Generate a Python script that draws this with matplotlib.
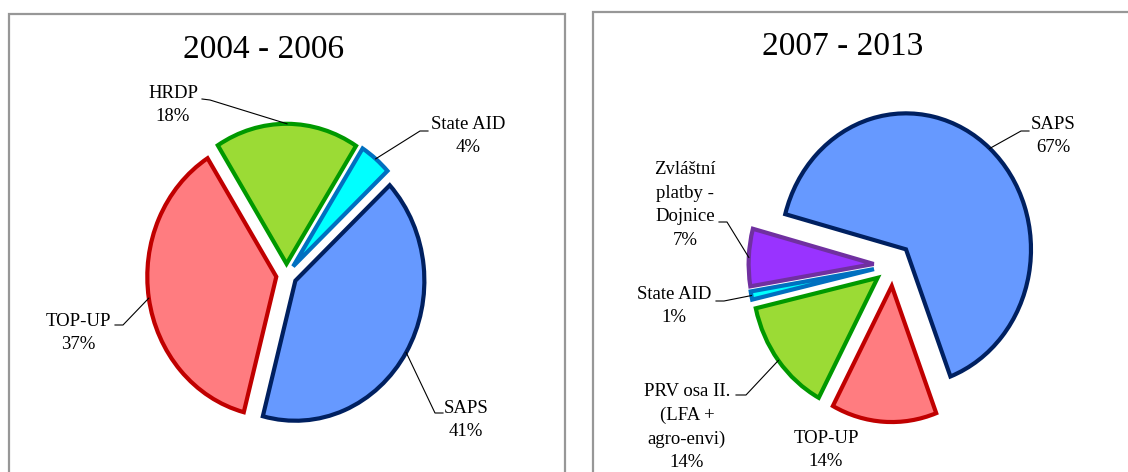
import matplotlib
matplotlib.use('Agg')
import matplotlib.pyplot as plt
from matplotlib.patches import Rectangle
import numpy as np

plt.rcParams['font.family'] = ['Liberation Serif', 'DejaVu Serif']

W, H = 1128, 472

# --- data ---
titles = ['2004 - 2006', '2007 - 2013']

labels_1 = ['SAPS', 'TOP-UP', 'HRDP', 'State AID']
values_1 = [41, 37, 18, 4]

labels_2 = ['SAPS', 'TOP-UP', 'PRV osa II.\n(LFA +\nagro-envi)', 'State AID',
            'Zvláštní\nplatby -\nDojnice']
values_2 = [67, 14, 14, 1, 7]

# barvy: SAPS, TOP-UP, HRDP/PRV, State AID, Dojnice
fill_c = {'SAPS': '#6699FF', 'TOP-UP': '#FF7C80', 'green': '#9BDB35',
          'State AID': '#00FFFF', 'purple': '#9933FF'}
edge_c = {'SAPS': '#002060', 'TOP-UP': '#C00000', 'green': '#009900',
          'State AID': '#0070C0', 'purple': '#7030A0'}
keys_1 = ['SAPS', 'TOP-UP', 'green', 'State AID']
keys_2 = ['SAPS', 'TOP-UP', 'green', 'State AID', 'purple']

fig = plt.figure(figsize=(W / 100, H / 100), dpi=100)

# ramecky obou grafu (pixely, y od shora)
def px_rect(x0, y0, x1, y1):
    return Rectangle((x0 / W, 1 - y1 / H), (x1 - x0) / W, (y1 - y0) / H,
                     transform=fig.transFigure, fill=False,
                     edgecolor='#979797', linewidth=1.6)

fig.patches.append(px_rect(8.7, 13.7, 565, 480))
fig.patches.append(px_rect(593, 12, 1140, 480))


def kolac(title, values, labels, keys, start, expl, cx, cy, rx, ry,
          title_xy, label_xy, leaders):
    ax = fig.add_axes([0, 0, 1, 1])
    wedges, _ = ax.pie(values, explode=[expl] * len(values),
                       colors=[fill_c[k] for k in keys],
                       startangle=start, counterclock=False, radius=1,
                       wedgeprops=dict(linewidth=3, joinstyle='miter'))
    for w, k in zip(wedges, keys):
        w.set_edgecolor(edge_c[k])
    ax.set_aspect('auto')
    ax.set_xlim(-cx / rx, (W - cx) / rx)
    ax.set_ylim((cy - H) / ry, cy / ry)
    ax.axis('off')

    def d(x, y):
        return ((x - cx) / rx, (cy - y) / ry)

    ax.text(*d(*title_xy), title, ha='center', va='center', fontsize=24)

    for w, lab, val, pos, lead in zip(wedges, labels, values, label_xy, leaders):
        ax.text(*d(*pos), f'{lab}\n{val}%', ha='center', va='center',
                fontsize=13.5, linespacing=1.5)
        if lead:
            ang = np.deg2rad((w.theta1 + w.theta2) / 2)
            x0 = w.center[0] + w.r * np.cos(ang)
            y0 = w.center[1] + w.r * np.sin(ang)
            pts = [d(*p) for p in lead] + [(x0, y0)]
            ax.plot([p[0] for p in pts], [p[1] for p in pts],
                    color='black', linewidth=0.8)


kolac(titles[0], values_1, labels_1, keys_1, start=43, expl=0.08,
      cx=286.5, cy=275, rx=129, ry=140, title_xy=(264, 50),
      label_xy=[(466, 420), (78, 333), (173, 105), (468, 136)],
      leaders=[[(443, 413), (435, 413)], [(115, 325), (123, 325)],
               [(202, 99), (210, 100)], [(428, 131), (420, 131)]])

kolac(titles[1], values_2, labels_2, keys_2, start=165, expl=0.155,
      cx=893, cy=265, rx=125, ry=136, title_xy=(843, 47),
      label_xy=[(1053, 136), (826, 450), (687, 427), (674, 306), (685, 205)],
      leaders=[[(1029, 131), (1021, 131)], None, [(736, 395), (746, 395)],
               [(716, 301), (724, 301)], [(719, 222), (727, 222)]])

fig.savefig('out.png', dpi=100)
